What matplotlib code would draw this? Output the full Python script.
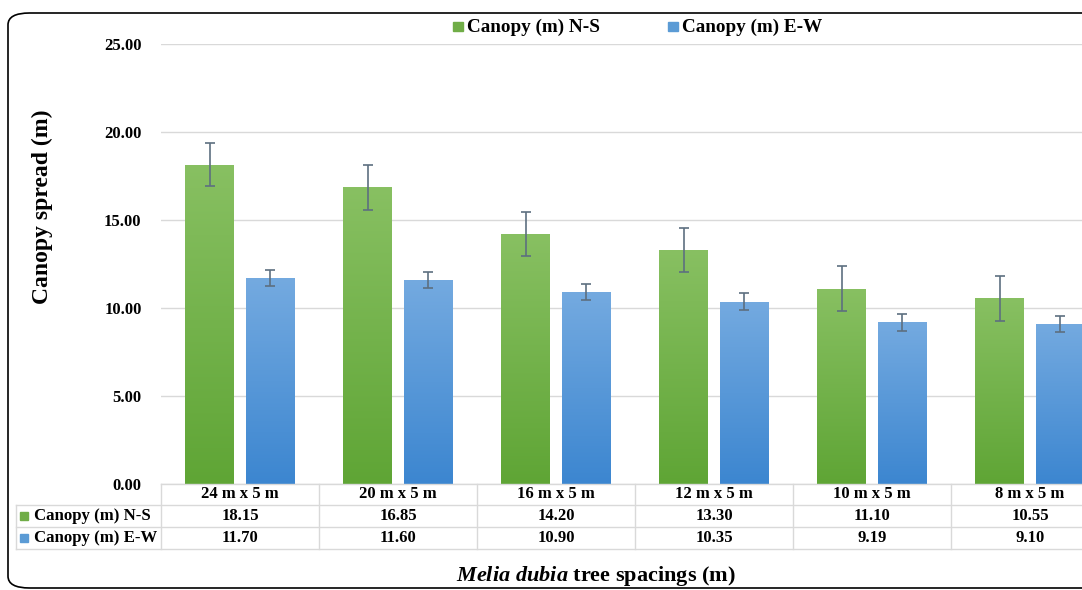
import matplotlib
matplotlib.use("Agg")
import matplotlib.pyplot as plt
import numpy as np
from matplotlib.patches import FancyBboxPatch, Rectangle
from matplotlib.colors import LinearSegmentedColormap
import matplotlib.transforms as mtransforms

# ---------------- data ----------------
categories = ["24 m x 5 m", "20 m x 5 m", "16 m x 5 m", "12 m x 5 m", "10 m x 5 m", "8 m x 5 m"]
ns_values = [18.15, 16.85, 14.20, 13.30, 11.10, 10.55]
ew_values = [11.70, 11.60, 10.90, 10.35, 9.19, 9.10]
ns_err = [1.22, 1.27, 1.25, 1.25, 1.28, 1.27]
ew_err = [0.47, 0.45, 0.46, 0.49, 0.47, 0.45]
ns_table = ["18.15", "16.85", "14.20", "13.30", "11.10", "10.55"]
ew_table = ["11.70", "11.60", "10.90", "10.35", "9.19", "9.10"]
series_names = ["Canopy (m) N-S", "Canopy (m) E-W"]
yticks = [0, 5, 10, 15, 20, 25]

plt.rcParams['mathtext.fontset'] = 'custom'
plt.rcParams['mathtext.rm'] = 'Liberation Serif:bold'
plt.rcParams['mathtext.it'] = 'Liberation Serif:italic:bold'
plt.rcParams['mathtext.bf'] = 'Liberation Serif:bold'
SERIF = 'Liberation Serif'

W, H = 1082, 590
fig = plt.figure(figsize=(W / 100, H / 100), dpi=100)

def fx(px):
    return px / W

def fy(py):
    return 1 - py / H

# rounded border
border = FancyBboxPatch((fx(8), fy(588)), fx(1200) - fx(8), fy(13) - fy(588),
                        boxstyle="round,pad=0,rounding_size=0.02",
                        transform=fig.transFigure, fill=False,
                        edgecolor='black', linewidth=1.2, clip_on=False)
fig.patches.append(border)

ax_left, ax_right, ax_top, ax_bot = 161, 1109, 44, 484
ax = fig.add_axes([fx(ax_left), fy(ax_bot), fx(ax_right) - fx(ax_left), fy(ax_top) - fy(ax_bot)])
ax.set_xlim(-0.5, len(categories) - 0.5)
ax.set_ylim(0, 25)
for s in ax.spines.values():
    s.set_visible(False)
ax.set_yticks(yticks)
ax.set_yticklabels([f"{v:.2f}" for v in yticks], fontfamily=SERIF, fontweight='bold', fontsize=12)
ax.tick_params(axis='y', length=0, pad=14)
ax.set_xticks([])
ax.grid(axis='y', color='#d9d9d9', linewidth=1)
ax.set_axisbelow(True)

x = np.arange(len(categories))
bw = 0.31
off = 0.19
green_cmap = LinearSegmentedColormap.from_list('g', ['#5fa535', '#88c062'])
blue_cmap = LinearSegmentedColormap.from_list('b', ['#3c86d0', '#74aae0'])
grad = np.linspace(0, 1, 256).reshape(-1, 1)

bars_ns = ax.bar(x - off, ns_values, bw, color='#70ad47', zorder=2)
bars_ew = ax.bar(x + off, ew_values, bw, color='#5b9bd5', zorder=2)
for bars, cmap in ((bars_ns, green_cmap), (bars_ew, blue_cmap)):
    for b in bars:
        x0, y0 = b.get_x(), b.get_y()
        w, h = b.get_width(), b.get_height()
        im = ax.imshow(grad, cmap=cmap, aspect='auto', origin='lower',
                       extent=(x0, x0 + w, y0, y0 + h), zorder=2.5)
        im.set_clip_path(b)
ax.set_xlim(-0.5, len(categories) - 0.5)
ax.set_ylim(0, 25)

ecol = '#5d6f80'
ax.errorbar(x - off, ns_values, yerr=ns_err, fmt='none', ecolor=ecol, elinewidth=1.2,
            capsize=3.5, capthick=1.2, zorder=3)
ax.errorbar(x + off, ew_values, yerr=ew_err, fmt='none', ecolor=ecol, elinewidth=1.2,
            capsize=3.5, capthick=1.2, zorder=3)

# ---------------- data table ----------------
trans = mtransforms.blended_transform_factory(ax.transData, fig.transFigure)
row_lines = [484, 505, 527, 549]
gcol = '#d9d9d9'
fig.add_artist(plt.Line2D([fx(161), fx(1200)], [fy(484), fy(484)], color=gcol, lw=1))
for yl in row_lines[1:]:
    fig.add_artist(plt.Line2D([fx(16), fx(1200)], [fy(yl), fy(yl)], color=gcol, lw=1))
fig.add_artist(plt.Line2D([fx(16), fx(16)], [fy(505), fy(549)], color=gcol, lw=1))
for i in range(len(categories) + 1):
    fig.add_artist(plt.Line2D([i - 0.5, i - 0.5], [fy(484), fy(549)], color=gcol, lw=1,
                              transform=trans))

rows_y = [(484 + 505) / 2, (505 + 527) / 2, (527 + 549) / 2]
for i, c in enumerate(categories):
    fig.text(i, fy(rows_y[0]), c, transform=trans, ha='center', va='center',
             fontfamily=SERIF, fontweight='bold', fontsize=12)
    fig.text(i, fy(rows_y[1]), ns_table[i], transform=trans, ha='center', va='center',
             fontfamily=SERIF, fontweight='bold', fontsize=12)
    fig.text(i, fy(rows_y[2]), ew_table[i], transform=trans, ha='center', va='center',
             fontfamily=SERIF, fontweight='bold', fontsize=12)

for ry, name, col in ((rows_y[1], series_names[0], '#70ad47'), (rows_y[2], series_names[1], '#5b9bd5')):
    fig.add_artist(Rectangle((fx(20), fy(ry + 4)), fx(8), fy(0) - fy(8),
                             transform=fig.transFigure, color=col))
    fig.text(fx(34), fy(ry), name, ha='left', va='center', fontfamily=SERIF,
             fontweight='bold', fontsize=12.1)

# ---------------- legend ----------------
for lx, name, col in ((453, series_names[0], '#70ad47'), (668, series_names[1], '#5b9bd5')):
    fig.add_artist(Rectangle((fx(lx), fy(31)), fx(10), fy(0) - fy(9),
                             transform=fig.transFigure, color=col))
    fig.text(fx(lx + 14), fy(27), name, ha='left', va='center', fontfamily=SERIF,
             fontweight='bold', fontsize=13.8)

# ---------------- axis labels ----------------
fig.text(fx(42), fy(207), "Canopy spread (m)", rotation=90, ha='center', va='center',
         fontfamily=SERIF, fontweight='bold', fontsize=17)
fig.text(fx(596), fy(576), r"$\it{Melia\ dubia}$ tree spacings (m)", ha='center', va='center',
         fontfamily=SERIF, fontweight='bold', fontsize=16)

fig.savefig("out.png", dpi=100)
